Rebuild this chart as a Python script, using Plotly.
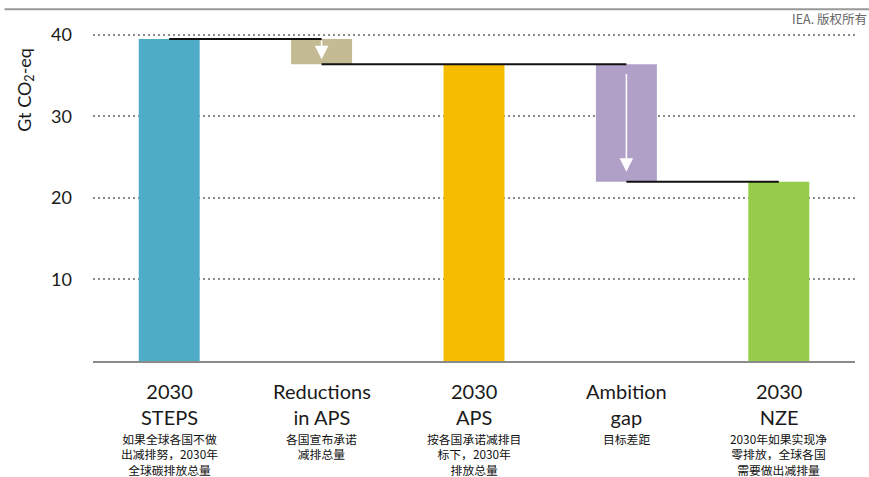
import plotly.graph_objects as go

# Emission levels in 2030 by scenario (Gt CO2-eq); deltas are negative steps
categories = ["2030<br>STEPS", "Reductions<br>in APS", "2030<br>APS", "Ambition<br>gap", "2030<br>NZE"]
values = [39.5, -3.1, 36.4, -14.4, 22.0]
measures = ["total", "delta", "total", "delta", "total"]
descriptions = [
    "如果全球各国不做<br>出减排努，2030年<br>全球碳排放总量",
    "各国宣布承诺<br>减排总量",
    "按各国承诺减排目<br>标下，2030年<br>排放总量",
    "目标差距",
    "2030年如果实现净<br>零排放，全球各国<br>需要做出减排量",
]
y_ticks = [10, 20, 30, 40]

bar_colors = ["#4EACC6", "#C4BB94", "#F6BC00", "#B0A0C8", "#95CC49"]
# inset of the white arrows inside the step bars (tail, tip), in axis units
arrow_pads = {1: (0.0, 0.6), 3: (1.0, 1.2)}

EN_FONT = "Lato"
CJK_FONT = "Noto Sans CJK SC"

# floating bars: totals start at zero, deltas hang below the running level
bases, heights = [], []
level = 0.0
for v, m in zip(values, measures):
    if m == "total":
        bases.append(0.0)
        heights.append(v)
        level = v
    else:
        bases.append(level + v)
        heights.append(-v)
        level = level + v

fig = go.Figure()
fig.add_trace(go.Bar(
    x=list(range(len(categories))), y=heights, base=bases,
    marker=dict(color=bar_colors, line=dict(width=0)),
    width=0.4, hoverinfo="skip", showlegend=False,
))

# connector lines between the centres of neighbouring bars
cx, cy = [], []
for i, m in enumerate(measures):
    if m != "delta":
        continue
    start = bases[i] + heights[i]
    end = bases[i]
    cx += [i - 1, i, None, i, i + 1, None]
    cy += [start, start, None, end, end, None]
fig.add_trace(go.Scatter(
    x=cx, y=cy, mode="lines", line=dict(color="#111111", width=2),
    hoverinfo="skip", showlegend=False,
))

annotations = []

# white downward arrows inside the step bars
for i, (tail_pad, tip_pad) in arrow_pads.items():
    top = bases[i] + heights[i]
    annotations.append(dict(
        x=i, y=bases[i] + tip_pad, ax=i, ay=top - tail_pad,
        xref="x", yref="y", axref="x", ayref="y",
        text="", showarrow=True, arrowhead=2, arrowsize=1.8,
        arrowwidth=1.5, arrowcolor="white", standoff=0, startstandoff=0,
    ))

# category names and their descriptions below the axis
for i, (name, desc) in enumerate(zip(categories, descriptions)):
    annotations.append(dict(
        x=i, y=-0.052, xref="x", yref="paper", text=name, showarrow=False,
        xanchor="center", yanchor="top", borderpad=0,
        font=dict(family=EN_FONT, size=20, color="#1a1a1a"),
    ))
    annotations.append(dict(
        x=i, y=-0.205, xref="x", yref="paper", text=desc, showarrow=False,
        xanchor="center", yanchor="top", borderpad=0,
        font=dict(family=CJK_FONT, size=11.8, color="#111111"),
    ))

annotations.append(dict(
    x=-0.089, y=0.82, xref="paper", yref="paper",
    text="Gt CO<sub>2</sub>-eq", textangle=-90, showarrow=False,
    xanchor="center", yanchor="middle",
    font=dict(family=EN_FONT, size=18, color="#1a1a1a"),
))
annotations.append(dict(
    x=1.018, y=1.034, xref="paper", yref="paper", text="IEA. 版权所有",
    showarrow=False, xanchor="right", yanchor="middle",
    font=dict(family=CJK_FONT, size=12.5, color="#666666"),
))

fig.update_layout(
    width=869, height=477,
    margin=dict(l=93, r=14, t=30, b=116),
    paper_bgcolor="white", plot_bgcolor="white",
    bargap=0.6,
    annotations=annotations,
    shapes=[dict(
        type="line", xref="paper", yref="paper",
        x0=-0.116, x1=1.02, y0=1.063, y1=1.063,
        line=dict(color="#999999", width=2),
    )],
    xaxis=dict(
        range=[-0.5, len(categories) - 0.5], showticklabels=False,
        showgrid=False, zeroline=False, ticks="",
        showline=True, linecolor="#8a8a8a", linewidth=2,
    ),
    yaxis=dict(
        range=[0, 40.6], tickvals=y_ticks, ticktext=[str(t) for t in y_ticks],
        showgrid=True, gridcolor="#8c8c8c", gridwidth=2, griddash="2px,3px",
        zeroline=False, showline=False, ticks="",
        ticklabelstandoff=20,
        tickfont=dict(family=EN_FONT, size=18, color="#1a1a1a"),
    ),
)

fig.write_html("out.html")
